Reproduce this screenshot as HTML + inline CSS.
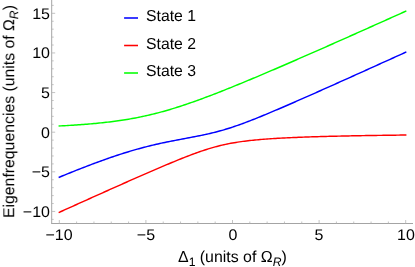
<!DOCTYPE html>
<html><head><meta charset="utf-8"><style>
html,body{margin:0;padding:0;background:#fff;}
html{width:415px;height:267px;overflow:hidden;}
body{width:415px;height:267px;position:relative;overflow:hidden;font-family:"Liberation Sans",sans-serif;color:#000;}
.t{text-rendering:geometricPrecision;will-change:transform;position:absolute;white-space:nowrap;font-size:16px;line-height:1;}
.xl{transform:translateX(-50%) scaleX(1.04);font-size:15.4px;}
.yl{text-align:right;width:40px;font-size:15.4px;transform:scaleX(1.04);transform-origin:100% 50%;}
.lg{font-size:15.4px;transform:scale(1.025,1.03);transform-origin:0 80%;}
sub{font-size:12.2px;vertical-align:baseline;position:relative;top:3.6px;line-height:0;}
</style></head><body>
<svg width="415" height="267" viewBox="0 0 415 267" style="position:absolute;left:0;top:0">
<line x1="51.7" y1="0" x2="51.7" y2="223.5" stroke="#a4a4a4" stroke-width="1"/>
<line x1="51.2" y1="223.5" x2="413" y2="223.5" stroke="#a4a4a4" stroke-width="1"/>
<line x1="59.30" y1="223.5" x2="59.30" y2="220.0" stroke="#b4b4b4" stroke-width="0.8"/>
<line x1="76.62" y1="223.5" x2="76.62" y2="221.5" stroke="#b4b4b4" stroke-width="0.8"/>
<line x1="93.94" y1="223.5" x2="93.94" y2="221.5" stroke="#b4b4b4" stroke-width="0.8"/>
<line x1="111.26" y1="223.5" x2="111.26" y2="221.5" stroke="#b4b4b4" stroke-width="0.8"/>
<line x1="128.58" y1="223.5" x2="128.58" y2="221.5" stroke="#b4b4b4" stroke-width="0.8"/>
<line x1="145.90" y1="223.5" x2="145.90" y2="220.0" stroke="#b4b4b4" stroke-width="0.8"/>
<line x1="163.22" y1="223.5" x2="163.22" y2="221.5" stroke="#b4b4b4" stroke-width="0.8"/>
<line x1="180.54" y1="223.5" x2="180.54" y2="221.5" stroke="#b4b4b4" stroke-width="0.8"/>
<line x1="197.86" y1="223.5" x2="197.86" y2="221.5" stroke="#b4b4b4" stroke-width="0.8"/>
<line x1="215.18" y1="223.5" x2="215.18" y2="221.5" stroke="#b4b4b4" stroke-width="0.8"/>
<line x1="232.50" y1="223.5" x2="232.50" y2="220.0" stroke="#b4b4b4" stroke-width="0.8"/>
<line x1="249.82" y1="223.5" x2="249.82" y2="221.5" stroke="#b4b4b4" stroke-width="0.8"/>
<line x1="267.14" y1="223.5" x2="267.14" y2="221.5" stroke="#b4b4b4" stroke-width="0.8"/>
<line x1="284.46" y1="223.5" x2="284.46" y2="221.5" stroke="#b4b4b4" stroke-width="0.8"/>
<line x1="301.78" y1="223.5" x2="301.78" y2="221.5" stroke="#b4b4b4" stroke-width="0.8"/>
<line x1="319.10" y1="223.5" x2="319.10" y2="220.0" stroke="#b4b4b4" stroke-width="0.8"/>
<line x1="336.42" y1="223.5" x2="336.42" y2="221.5" stroke="#b4b4b4" stroke-width="0.8"/>
<line x1="353.74" y1="223.5" x2="353.74" y2="221.5" stroke="#b4b4b4" stroke-width="0.8"/>
<line x1="371.06" y1="223.5" x2="371.06" y2="221.5" stroke="#b4b4b4" stroke-width="0.8"/>
<line x1="388.38" y1="223.5" x2="388.38" y2="221.5" stroke="#b4b4b4" stroke-width="0.8"/>
<line x1="405.70" y1="223.5" x2="405.70" y2="220.0" stroke="#b4b4b4" stroke-width="0.8"/>
<line x1="51.7" y1="219.38" x2="53.7" y2="219.38" stroke="#b4b4b4" stroke-width="0.8"/>
<line x1="51.7" y1="211.45" x2="55.2" y2="211.45" stroke="#b4b4b4" stroke-width="0.8"/>
<line x1="51.7" y1="203.52" x2="53.7" y2="203.52" stroke="#b4b4b4" stroke-width="0.8"/>
<line x1="51.7" y1="195.60" x2="53.7" y2="195.60" stroke="#b4b4b4" stroke-width="0.8"/>
<line x1="51.7" y1="187.67" x2="53.7" y2="187.67" stroke="#b4b4b4" stroke-width="0.8"/>
<line x1="51.7" y1="179.75" x2="53.7" y2="179.75" stroke="#b4b4b4" stroke-width="0.8"/>
<line x1="51.7" y1="171.82" x2="55.2" y2="171.82" stroke="#b4b4b4" stroke-width="0.8"/>
<line x1="51.7" y1="163.90" x2="53.7" y2="163.90" stroke="#b4b4b4" stroke-width="0.8"/>
<line x1="51.7" y1="155.97" x2="53.7" y2="155.97" stroke="#b4b4b4" stroke-width="0.8"/>
<line x1="51.7" y1="148.05" x2="53.7" y2="148.05" stroke="#b4b4b4" stroke-width="0.8"/>
<line x1="51.7" y1="140.12" x2="53.7" y2="140.12" stroke="#b4b4b4" stroke-width="0.8"/>
<line x1="51.7" y1="132.20" x2="55.2" y2="132.20" stroke="#b4b4b4" stroke-width="0.8"/>
<line x1="51.7" y1="124.27" x2="53.7" y2="124.27" stroke="#b4b4b4" stroke-width="0.8"/>
<line x1="51.7" y1="116.35" x2="53.7" y2="116.35" stroke="#b4b4b4" stroke-width="0.8"/>
<line x1="51.7" y1="108.42" x2="53.7" y2="108.42" stroke="#b4b4b4" stroke-width="0.8"/>
<line x1="51.7" y1="100.50" x2="53.7" y2="100.50" stroke="#b4b4b4" stroke-width="0.8"/>
<line x1="51.7" y1="92.57" x2="55.2" y2="92.57" stroke="#b4b4b4" stroke-width="0.8"/>
<line x1="51.7" y1="84.65" x2="53.7" y2="84.65" stroke="#b4b4b4" stroke-width="0.8"/>
<line x1="51.7" y1="76.72" x2="53.7" y2="76.72" stroke="#b4b4b4" stroke-width="0.8"/>
<line x1="51.7" y1="68.80" x2="53.7" y2="68.80" stroke="#b4b4b4" stroke-width="0.8"/>
<line x1="51.7" y1="60.87" x2="53.7" y2="60.87" stroke="#b4b4b4" stroke-width="0.8"/>
<line x1="51.7" y1="52.95" x2="55.2" y2="52.95" stroke="#b4b4b4" stroke-width="0.8"/>
<line x1="51.7" y1="45.02" x2="53.7" y2="45.02" stroke="#b4b4b4" stroke-width="0.8"/>
<line x1="51.7" y1="37.10" x2="53.7" y2="37.10" stroke="#b4b4b4" stroke-width="0.8"/>
<line x1="51.7" y1="29.17" x2="53.7" y2="29.17" stroke="#b4b4b4" stroke-width="0.8"/>
<line x1="51.7" y1="21.25" x2="53.7" y2="21.25" stroke="#b4b4b4" stroke-width="0.8"/>
<line x1="51.7" y1="13.32" x2="55.2" y2="13.32" stroke="#b4b4b4" stroke-width="0.8"/>
<line x1="51.7" y1="5.40" x2="53.7" y2="5.40" stroke="#b4b4b4" stroke-width="0.8"/>
<path d="M59.30,177.19 L61.03,176.48 L62.76,175.77 L64.50,175.07 L66.23,174.36 L67.96,173.66 L69.69,172.96 L71.42,172.27 L73.16,171.58 L74.89,170.89 L76.62,170.20 L78.35,169.52 L80.08,168.83 L81.82,168.16 L83.55,167.48 L85.28,166.81 L87.01,166.15 L88.74,165.49 L90.48,164.83 L92.21,164.17 L93.94,163.52 L95.67,162.88 L97.40,162.24 L99.14,161.60 L100.87,160.97 L102.60,160.34 L104.33,159.72 L106.06,159.11 L107.80,158.50 L109.53,157.90 L111.26,157.30 L112.99,156.71 L114.72,156.12 L116.46,155.54 L118.19,154.97 L119.92,154.41 L121.65,153.85 L123.38,153.30 L125.12,152.75 L126.85,152.22 L128.58,151.69 L130.31,151.17 L132.04,150.65 L133.78,150.15 L135.51,149.65 L137.24,149.16 L138.97,148.68 L140.70,148.21 L142.44,147.75 L144.17,147.29 L145.90,146.84 L147.63,146.40 L149.36,145.97 L151.10,145.55 L152.83,145.13 L154.56,144.72 L156.29,144.32 L158.02,143.93 L159.76,143.54 L161.49,143.16 L163.22,142.79 L164.95,142.43 L166.68,142.06 L168.42,141.71 L170.15,141.36 L171.88,141.02 L173.61,140.67 L175.34,140.34 L177.08,140.01 L178.81,139.67 L180.54,139.35 L182.27,139.02 L184.00,138.70 L185.74,138.37 L187.47,138.05 L189.20,137.72 L190.93,137.39 L192.66,137.07 L194.40,136.73 L196.13,136.40 L197.86,136.06 L199.59,135.71 L201.32,135.36 L203.06,135.00 L204.79,134.63 L206.52,134.25 L208.25,133.86 L209.98,133.46 L211.72,133.06 L213.45,132.63 L215.18,132.20 L216.91,131.75 L218.64,131.29 L220.38,130.82 L222.11,130.33 L223.84,129.83 L225.57,129.31 L227.30,128.78 L229.04,128.24 L230.77,127.69 L232.50,127.12 L234.23,126.54 L235.96,125.94 L237.70,125.34 L239.43,124.72 L241.16,124.10 L242.89,123.47 L244.62,122.82 L246.36,122.17 L248.09,121.51 L249.82,120.84 L251.55,120.17 L253.28,119.49 L255.02,118.80 L256.75,118.11 L258.48,117.41 L260.21,116.71 L261.94,116.00 L263.68,115.29 L265.41,114.57 L267.14,113.85 L268.87,113.13 L270.60,112.40 L272.34,111.67 L274.07,110.94 L275.80,110.20 L277.53,109.46 L279.26,108.72 L281.00,107.98 L282.73,107.23 L284.46,106.49 L286.19,105.74 L287.92,104.99 L289.66,104.23 L291.39,103.48 L293.12,102.72 L294.85,101.97 L296.58,101.21 L298.32,100.45 L300.05,99.69 L301.78,98.93 L303.51,98.16 L305.24,97.40 L306.98,96.63 L308.71,95.87 L310.44,95.10 L312.17,94.33 L313.90,93.56 L315.64,92.79 L317.37,92.02 L319.10,91.25 L320.83,90.48 L322.56,89.71 L324.30,88.94 L326.03,88.16 L327.76,87.39 L329.49,86.62 L331.22,85.84 L332.96,85.06 L334.69,84.29 L336.42,83.51 L338.15,82.74 L339.88,81.96 L341.62,81.18 L343.35,80.40 L345.08,79.62 L346.81,78.85 L348.54,78.07 L350.28,77.29 L352.01,76.51 L353.74,75.73 L355.47,74.95 L357.20,74.17 L358.94,73.39 L360.67,72.60 L362.40,71.82 L364.13,71.04 L365.86,70.26 L367.60,69.48 L369.33,68.70 L371.06,67.91 L372.79,67.13 L374.52,66.35 L376.26,65.56 L377.99,64.78 L379.72,64.00 L381.45,63.21 L383.18,62.43 L384.92,61.64 L386.65,60.86 L388.38,60.08 L390.11,59.29 L391.84,58.51 L393.58,57.72 L395.31,56.94 L397.04,56.15 L398.77,55.37 L400.50,54.58 L402.24,53.79 L403.97,53.01 L405.70,52.22" fill="none" stroke="#0000ff" stroke-width="1.45" stroke-linejoin="round" stroke-linecap="square"/>
<path d="M59.30,212.30 L61.03,211.52 L62.76,210.73 L64.50,209.95 L66.23,209.17 L67.96,208.38 L69.69,207.60 L71.42,206.82 L73.16,206.04 L74.89,205.26 L76.62,204.48 L78.35,203.69 L80.08,202.91 L81.82,202.13 L83.55,201.35 L85.28,200.57 L87.01,199.79 L88.74,199.01 L90.48,198.23 L92.21,197.46 L93.94,196.68 L95.67,195.90 L97.40,195.12 L99.14,194.34 L100.87,193.57 L102.60,192.79 L104.33,192.02 L106.06,191.24 L107.80,190.47 L109.53,189.69 L111.26,188.92 L112.99,188.14 L114.72,187.37 L116.46,186.60 L118.19,185.83 L119.92,185.06 L121.65,184.29 L123.38,183.52 L125.12,182.75 L126.85,181.98 L128.58,181.21 L130.31,180.45 L132.04,179.68 L133.78,178.92 L135.51,178.16 L137.24,177.39 L138.97,176.63 L140.70,175.87 L142.44,175.11 L144.17,174.36 L145.90,173.60 L147.63,172.85 L149.36,172.10 L151.10,171.35 L152.83,170.60 L154.56,169.85 L156.29,169.10 L158.02,168.36 L159.76,167.62 L161.49,166.88 L163.22,166.15 L164.95,165.41 L166.68,164.68 L168.42,163.96 L170.15,163.24 L171.88,162.52 L173.61,161.80 L175.34,161.09 L177.08,160.38 L178.81,159.68 L180.54,158.98 L182.27,158.29 L184.00,157.60 L185.74,156.92 L187.47,156.25 L189.20,155.59 L190.93,154.93 L192.66,154.28 L194.40,153.64 L196.13,153.01 L197.86,152.39 L199.59,151.78 L201.32,151.18 L203.06,150.60 L204.79,150.02 L206.52,149.46 L208.25,148.92 L209.98,148.39 L211.72,147.87 L213.45,147.38 L215.18,146.89 L216.91,146.43 L218.64,145.98 L220.38,145.55 L222.11,145.13 L223.84,144.74 L225.57,144.36 L227.30,143.99 L229.04,143.65 L230.77,143.31 L232.50,143.00 L234.23,142.70 L235.96,142.41 L237.70,142.14 L239.43,141.88 L241.16,141.63 L242.89,141.39 L244.62,141.17 L246.36,140.95 L248.09,140.75 L249.82,140.55 L251.55,140.37 L253.28,140.19 L255.02,140.02 L256.75,139.85 L258.48,139.70 L260.21,139.55 L261.94,139.40 L263.68,139.27 L265.41,139.13 L267.14,139.01 L268.87,138.88 L270.60,138.77 L272.34,138.65 L274.07,138.54 L275.80,138.44 L277.53,138.33 L279.26,138.24 L281.00,138.14 L282.73,138.05 L284.46,137.96 L286.19,137.87 L287.92,137.79 L289.66,137.71 L291.39,137.63 L293.12,137.55 L294.85,137.48 L296.58,137.41 L298.32,137.34 L300.05,137.27 L301.78,137.20 L303.51,137.14 L305.24,137.08 L306.98,137.01 L308.71,136.95 L310.44,136.90 L312.17,136.84 L313.90,136.79 L315.64,136.73 L317.37,136.68 L319.10,136.63 L320.83,136.58 L322.56,136.53 L324.30,136.48 L326.03,136.43 L327.76,136.39 L329.49,136.34 L331.22,136.30 L332.96,136.26 L334.69,136.22 L336.42,136.18 L338.15,136.13 L339.88,136.10 L341.62,136.06 L343.35,136.02 L345.08,135.98 L346.81,135.95 L348.54,135.91 L350.28,135.88 L352.01,135.84 L353.74,135.81 L355.47,135.78 L357.20,135.74 L358.94,135.71 L360.67,135.68 L362.40,135.65 L364.13,135.62 L365.86,135.59 L367.60,135.56 L369.33,135.53 L371.06,135.50 L372.79,135.48 L374.52,135.45 L376.26,135.42 L377.99,135.40 L379.72,135.37 L381.45,135.35 L383.18,135.32 L384.92,135.30 L386.65,135.27 L388.38,135.25 L390.11,135.22 L391.84,135.20 L393.58,135.18 L395.31,135.16 L397.04,135.13 L398.77,135.11 L400.50,135.09 L402.24,135.07 L403.97,135.05 L405.70,135.03" fill="none" stroke="#ff0000" stroke-width="1.45" stroke-linejoin="round" stroke-linecap="square"/>
<path d="M59.30,125.98 L61.03,125.89 L62.76,125.80 L64.50,125.70 L66.23,125.60 L67.96,125.50 L69.69,125.40 L71.42,125.29 L73.16,125.18 L74.89,125.07 L76.62,124.95 L78.35,124.83 L80.08,124.71 L81.82,124.58 L83.55,124.45 L85.28,124.31 L87.01,124.17 L88.74,124.03 L90.48,123.88 L92.21,123.73 L93.94,123.57 L95.67,123.41 L97.40,123.25 L99.14,123.07 L100.87,122.90 L102.60,122.71 L104.33,122.53 L106.06,122.33 L107.80,122.13 L109.53,121.92 L111.26,121.71 L112.99,121.49 L114.72,121.26 L116.46,121.03 L118.19,120.79 L119.92,120.54 L121.65,120.28 L123.38,120.02 L125.12,119.74 L126.85,119.46 L128.58,119.17 L130.31,118.87 L132.04,118.57 L133.78,118.25 L135.51,117.93 L137.24,117.59 L138.97,117.25 L140.70,116.90 L142.44,116.53 L144.17,116.16 L145.90,115.78 L147.63,115.39 L149.36,114.99 L151.10,114.58 L152.83,114.16 L154.56,113.73 L156.29,113.29 L158.02,112.84 L159.76,112.38 L161.49,111.91 L163.22,111.44 L164.95,110.95 L166.68,110.46 L168.42,109.95 L170.15,109.44 L171.88,108.92 L173.61,108.39 L175.34,107.85 L177.08,107.31 L178.81,106.76 L180.54,106.20 L182.27,105.63 L184.00,105.05 L185.74,104.47 L187.47,103.89 L189.20,103.29 L190.93,102.69 L192.66,102.08 L194.40,101.47 L196.13,100.85 L197.86,100.23 L199.59,99.60 L201.32,98.97 L203.06,98.33 L204.79,97.68 L206.52,97.04 L208.25,96.38 L209.98,95.73 L211.72,95.07 L213.45,94.40 L215.18,93.73 L216.91,93.06 L218.64,92.38 L220.38,91.70 L222.11,91.02 L223.84,90.33 L225.57,89.64 L227.30,88.95 L229.04,88.26 L230.77,87.56 L232.50,86.86 L234.23,86.16 L235.96,85.45 L237.70,84.74 L239.43,84.03 L241.16,83.32 L242.89,82.61 L244.62,81.89 L246.36,81.17 L248.09,80.45 L249.82,79.73 L251.55,79.01 L253.28,78.28 L255.02,77.55 L256.75,76.82 L258.48,76.09 L260.21,75.36 L261.94,74.63 L263.68,73.89 L265.41,73.16 L267.14,72.42 L268.87,71.68 L270.60,70.94 L272.34,70.20 L274.07,69.46 L275.80,68.71 L277.53,67.97 L279.26,67.22 L281.00,66.48 L282.73,65.73 L284.46,64.98 L286.19,64.23 L287.92,63.48 L289.66,62.73 L291.39,61.98 L293.12,61.22 L294.85,60.47 L296.58,59.72 L298.32,58.96 L300.05,58.20 L301.78,57.45 L303.51,56.69 L305.24,55.93 L306.98,55.17 L308.71,54.41 L310.44,53.65 L312.17,52.89 L313.90,52.13 L315.64,51.37 L317.37,50.61 L319.10,49.84 L320.83,49.08 L322.56,48.32 L324.30,47.55 L326.03,46.79 L327.76,46.02 L329.49,45.26 L331.22,44.49 L332.96,43.72 L334.69,42.96 L336.42,42.19 L338.15,41.42 L339.88,40.65 L341.62,39.88 L343.35,39.11 L345.08,38.34 L346.81,37.57 L348.54,36.80 L350.28,36.03 L352.01,35.26 L353.74,34.49 L355.47,33.72 L357.20,32.95 L358.94,32.17 L360.67,31.40 L362.40,30.63 L364.13,29.85 L365.86,29.08 L367.60,28.31 L369.33,27.53 L371.06,26.76 L372.79,25.98 L374.52,25.21 L376.26,24.43 L377.99,23.66 L379.72,22.88 L381.45,22.11 L383.18,21.33 L384.92,20.55 L386.65,19.78 L388.38,19.00 L390.11,18.22 L391.84,17.45 L393.58,16.67 L395.31,15.89 L397.04,15.11 L398.77,14.34 L400.50,13.56 L402.24,12.78 L403.97,12.00 L405.70,11.22" fill="none" stroke="#00ff00" stroke-width="1.45" stroke-linejoin="round" stroke-linecap="square"/>
<line x1="124.1" y1="18.0" x2="138.0" y2="18.0" stroke="#0000ff" stroke-width="1.55"/>
<line x1="124.1" y1="45.5" x2="138.0" y2="45.5" stroke="#ff0000" stroke-width="1.55"/>
<line x1="124.1" y1="73.0" x2="138.0" y2="73.0" stroke="#00ff00" stroke-width="1.55"/>
</svg>
<div class="t xl" style="left:59.3px;top:228px">−10</div>
<div class="t xl" style="left:145.9px;top:228px">−5</div>
<div class="t xl" style="left:232.5px;top:228px">0</div>
<div class="t xl" style="left:319.1px;top:228px">5</div>
<div class="t xl" style="left:405.7px;top:228px">10</div>
<div class="t yl" style="left:9.6px;top:204.8px">−10</div>
<div class="t yl" style="left:9.6px;top:165.1px">−5</div>
<div class="t yl" style="left:9.6px;top:125.5px">0</div>
<div class="t yl" style="left:9.6px;top:85.9px">5</div>
<div class="t yl" style="left:9.6px;top:46.2px">10</div>
<div class="t yl" style="left:9.6px;top:6.6px">15</div>
<div class="t lg" style="left:146.0px;top:9.4px">State 1</div>
<div class="t lg" style="left:146.0px;top:36.8px">State 2</div>
<div class="t lg" style="left:146.0px;top:64.2px">State 3</div>
<div class="t" id="xlab" style="height:17.2px;overflow:hidden;font-size:15.9px;left:178.4px;top:249.8px">Δ<sub>1</sub> (units of Ω<sub><i>R</i></sub>)</div>
<div class="t" id="ylab" style="font-size:15.8px;left:17.7px;top:217.7px;transform-origin:0 0;transform:rotate(-90deg) translateY(-100%);"><span style="position:relative;top:0px">Eigenfrequencies (units of Ω<sub><i>R</i></sub>)</span></div>
</body></html>
